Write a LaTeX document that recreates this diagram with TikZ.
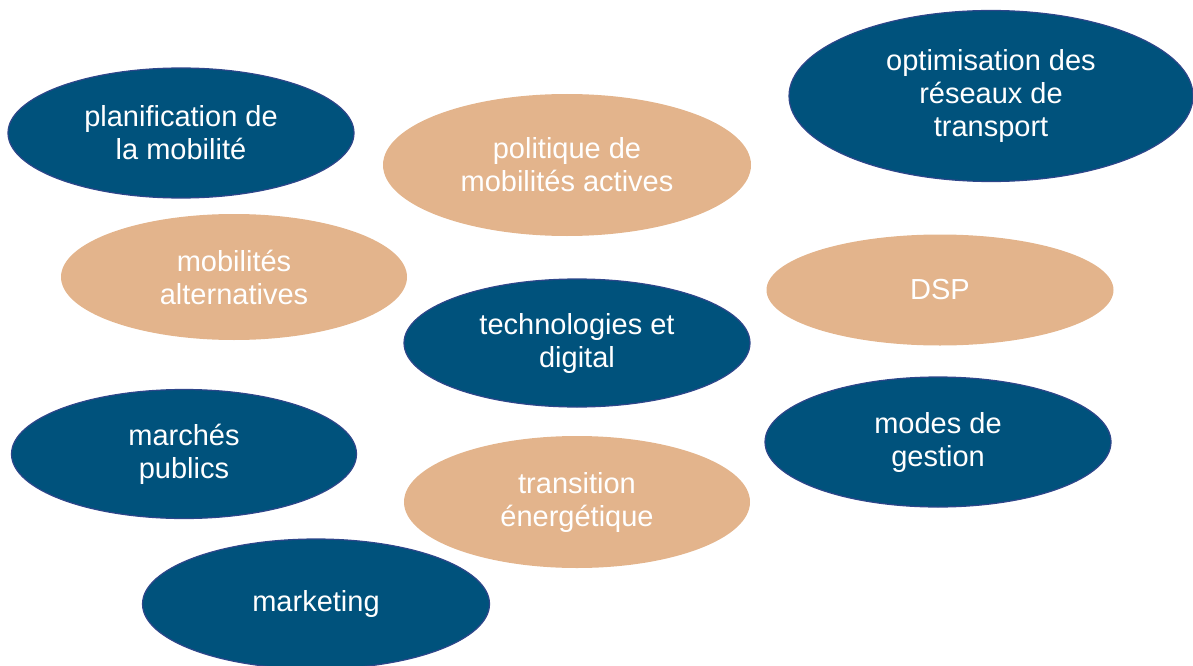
\documentclass[tikz,border=0pt]{standalone}
\usepackage{fontspec}
\setmainfont{Liberation Sans}
\usepackage{tikz}
\usetikzlibrary{shapes.geometric}
\definecolor{bluetheme}{RGB}{0,82,124}
\definecolor{blueedge}{RGB}{46,70,138}
\definecolor{tantheme}{RGB}{227,180,140}

\begin{document}
\begin{tikzpicture}[x=1pt, y=-1pt,
        topic/.style={ellipse, inner sep=0pt, align=center, text=white,
                font=\fontsize{29}{33}\selectfont},
        bluetopic/.style={topic, fill=bluetheme, draw=blueedge, line width=1.2pt},
        tantopic/.style={topic, fill=tantheme}]
        \useasboundingbox (0,0) rectangle (1193,666);
        \clip (0,0) rectangle (1193,666);
        \node (planif) [bluetopic, minimum width=346pt, minimum height=130pt] at (181, 133) {planification de\\la mobilité};
        \node (politique) [tantopic, minimum width=368pt, minimum height=142pt] at (567, 165) {politique de\\mobilités actives};
        \node (optim) [bluetopic, minimum width=404pt, minimum height=171pt] at (991, 96) {optimisation des\\réseaux de\\transport};
        \node (altern) [tantopic, minimum width=346pt, minimum height=126pt] at (234, 277) {mobilités\\alternatives};
        \node (dsp) [tantopic, minimum width=347pt, minimum height=111pt] at (940, 290) {DSP};
        \node (techno) [bluetopic, minimum width=346pt, minimum height=128pt] at (577, 343) {technologies et\\digital};
        \node (marches) [bluetopic, minimum width=345pt, minimum height=129pt] at (184, 454) {marchés\\publics};
        \node (modes) [bluetopic, minimum width=346pt, minimum height=130pt] at (938, 442) {modes de\\gestion};
        \node (transition) [tantopic, minimum width=346pt, minimum height=132pt] at (577, 502) {transition\\énergétique};
        \node (marketing) [bluetopic, minimum width=347pt, minimum height=130pt] at (316, 604) {marketing};
\end{tikzpicture}
\end{document}
